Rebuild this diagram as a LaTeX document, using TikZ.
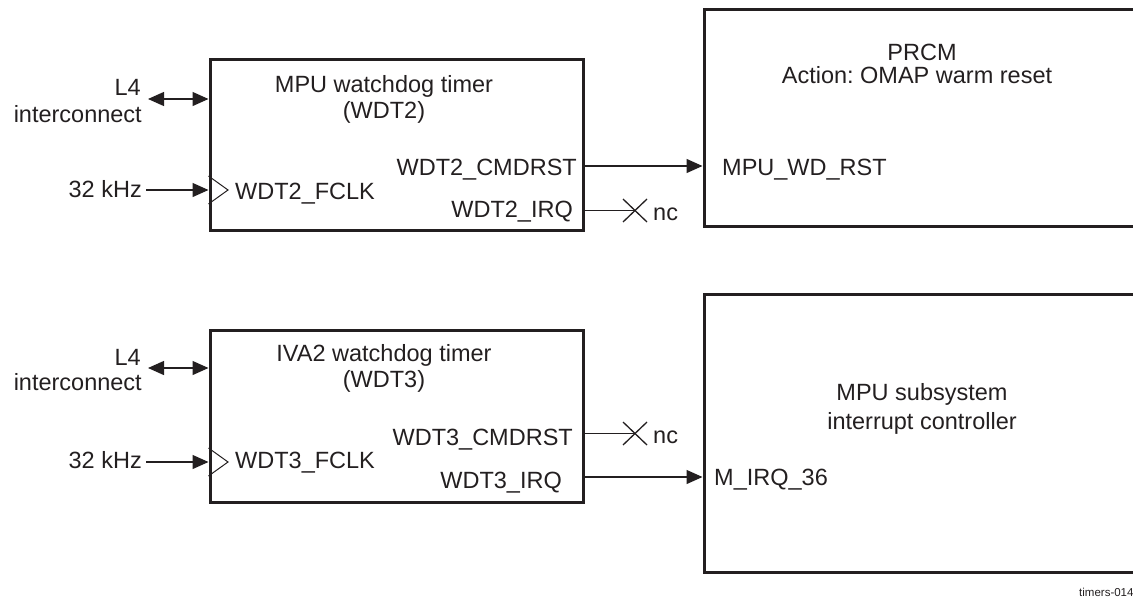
\documentclass[tikz,border=0pt]{standalone}
\usepackage{fontspec}
\setmainfont{Liberation Sans}
\usetikzlibrary{arrows.meta}
\definecolor{ink}{HTML}{231F20}
\frenchspacing
\begin{document}
\begin{tikzpicture}[x=1pt,y=-1pt,
  lbl/.style={inner sep=0pt, text=ink, font=\fontsize{23.5}{27}\selectfont},
  small/.style={inner sep=0pt, text=ink, font=\fontsize{11.5}{13}\selectfont},
  blk/.style={draw=ink, line width=3pt, inner sep=0pt},
  conn/.style={line width=1.3pt, draw=ink},
  tipend/.style={-{Triangle[length=16pt,width=14pt]}},
  tipboth/.style={{Triangle[length=16pt,width=14pt]}-{Triangle[length=16pt,width=14pt]}},
  clk/.style={line width=1pt, draw=ink},
  ]
\useasboundingbox (0,0) rectangle (1133,597);
\clip (0,0) rectangle (1133,597);

% boxes
\node[blk, minimum width=373pt, minimum height=171pt] (wdt2) at (396.5,144.5) {};
\node[blk, minimum width=373pt, minimum height=172pt] (wdt3) at (396.5,416) {};
\node[blk, minimum width=460pt, minimum height=217pt] (prcm) at (934,117.5) {};
\node[blk, minimum width=460pt, minimum height=278pt] (mpuic) at (934,433) {};

% box titles
\node[lbl, anchor=base] (t2a) at (384,92) {MPU watchdog timer};
\node[lbl, anchor=base] (t2b) at (384,118) {(WDT2)};
\node[lbl, anchor=base] (t3a) at (384,361) {IVA2 watchdog timer};
\node[lbl, anchor=base] (t3b) at (384,387) {(WDT3)};
\node[lbl, anchor=base] (pa) at (922,60) {PRCM};
\node[lbl, anchor=base] (pb) at (917,83) {Action: OMAP warm reset};
\node[lbl, anchor=base] (ma) at (922,400) {MPU subsystem};
\node[lbl, anchor=base] (mb) at (922,429) {interrupt controller};

% left labels
\node[lbl, anchor=base east] (l4a) at (141,95) {L4};
\node[lbl, anchor=base east] (ica) at (142,122) {interconnect};
\node[lbl, anchor=base east] (ka) at (142,197) {32 kHz};
\node[lbl, anchor=base east] (l4b) at (141,365) {L4};
\node[lbl, anchor=base east] (icb) at (142,390) {interconnect};
\node[lbl, anchor=base east] (kb) at (142,468) {32 kHz};

% port labels
\node[lbl, anchor=base west] (fclk2) at (235,199) {WDT2\_FCLK};
\node[lbl, anchor=base east] (cmd2) at (577,175) {WDT2\_CMDRST};
\node[lbl, anchor=base east] (irq2) at (573,217) {WDT2\_IRQ};
\node[lbl, anchor=base west] (fclk3) at (235,468) {WDT3\_FCLK};
\node[lbl, anchor=base east] (cmd3) at (573,445) {WDT3\_CMDRST};
\node[lbl, anchor=base east] (irq3) at (562,488) {WDT3\_IRQ};
\node[lbl, anchor=base west] (wdrst) at (722,175) {MPU\_WD\_RST};
\node[lbl, anchor=base west] (mirq) at (714,485) {M\_IRQ\_36};
\node[lbl, anchor=base west] (nc2) at (653,220) {nc};
\node[lbl, anchor=base west] (nc3) at (653,443) {nc};
\node[small, anchor=base west] (fig) at (1079,596) {timers-014};

% connector end points
\coordinate (l4aend) at (148,99);
\coordinate (l4bend) at (148,368);
\coordinate (kaend) at (146,190);
\coordinate (kbend) at (146,462);
\coordinate (x2) at (635,210.5);
\coordinate (x3) at (635,433.5);

% L4 interconnect
\draw[conn, tipboth] (l4aend) -- (wdt2.west |- l4aend);
\draw[conn, tipboth] (l4bend) -- (wdt3.west |- l4bend);
% clocks
\draw[conn, tipend] (kaend) -- (wdt2.west |- kaend);
\draw[conn, tipend] (kbend) -- (wdt3.west |- kbend);
\draw[clk] (wdt2.west |- 0,176) -- (228,190) -- (wdt2.west |- 0,204);
\draw[clk] (wdt3.west |- 0,448) -- (228,462) -- (wdt3.west |- 0,476);

% outputs
\draw[conn, tipend] (wdt2.east |- 0,166) -- (prcm.west |- 0,166);
\draw[conn] (wdt2.east |- x2) -- (x2);
\draw[conn] (x2) ++(-12,-11.5) -- ++(24,23) (x2) ++(-12,11.5) -- ++(24,-23);
\draw[conn] (wdt3.east |- x3) -- (x3);
\draw[conn] (x3) ++(-12,-11.5) -- ++(24,23) (x3) ++(-12,11.5) -- ++(24,-23);
\draw[conn, tipend] (wdt3.east |- 0,477) -- (mpuic.west |- 0,477);
\end{tikzpicture}
\end{document}
